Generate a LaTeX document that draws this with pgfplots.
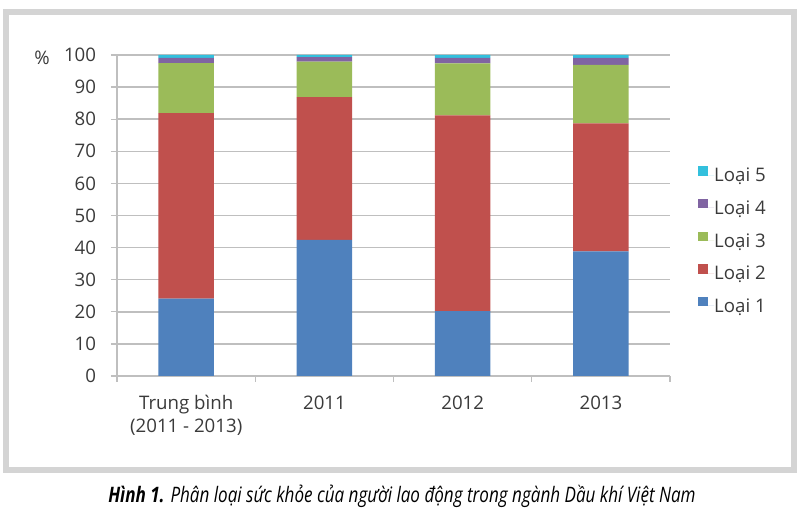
\documentclass[border=0pt]{standalone}
\usepackage{pgfplots}
\pgfplotsset{compat=1.18}
\usepackage{fontspec}
\setmainfont{Open Sans}
\newfontfamily\capfont[FakeStretch=0.8]{Open Sans}
\definecolor{c1}{HTML}{4F81BD}
\definecolor{c2}{HTML}{C0504D}
\definecolor{c3}{HTML}{9BBB59}
\definecolor{c4}{HTML}{8064A2}
\definecolor{c5}{HTML}{33C0DD}
\definecolor{txt}{HTML}{3A3A3A}
\definecolor{gridc}{HTML}{BFBFBF}
\definecolor{framec}{HTML}{D4D4D4}
\begin{document}
\begin{tikzpicture}
\begin{scope}[x=0.75pt,y=0.75pt]
\path[use as bounding box] (0,0) rectangle (800,520);
\draw[framec, line width=4.5pt] (6,50) rectangle (794,508);
\node[text=txt, font=\fontsize{14}{16}\selectfont] at (42,462) {\%};
\node[font=\capfont\fontsize{16}{19}\selectfont, text=black] at (402,24) {\textbf{\textit{Hình 1.}} \textit{Phân loại sức khỏe của người lao động trong ngành Dầu khí Việt Nam}};
\end{scope}
\begin{axis}[
  at={(87.75pt,108pt)}, anchor=south west,
  scale only axis, width=414.75pt, height=240.75pt,
  xmin=-0.5, xmax=3.5, ymin=0, ymax=100,
  ybar stacked, bar width=0.4,
  axis lines*=left,
  axis line style={gridc, line width=1pt},
  ymajorgrids, grid style={gridc, line width=1.1pt},
  ytick={0,10,...,100},
  xtick={-0.5,0.5,1.5,2.5,3.5},
  xticklabels={{Trung bình\\(2011 - 2013)},2011,2012,2013,{}},
  tick align=outside, major tick length=4.5pt,
  tick style={gridc, line width=1pt},
  /pgf/number format/assume math mode=true,
  yticklabel style={font=\fontsize{14}{16}\selectfont, text=txt, inner sep=0pt, anchor=east, xshift=-11pt},
  xticklabel style={font=\fontsize{14}{17.25}\selectfont, text=txt, align=center, inner sep=0pt, anchor=north, xshift=51.9pt, yshift=-10pt},
  reverse legend,
  legend cell align=left,
  legend style={at={(rel axis cs:1.0506,0.654)}, anchor=north west, draw=none, fill=none, inner sep=0pt,
    font=\fontsize{14}{16}\selectfont, text=txt, row sep=12.8pt, column sep=0pt,
    nodes={inner sep=0pt, text height=10pt, text depth=0pt}},
  legend image code/.code={\fill[#1] (0pt,-0.3pt) rectangle (7pt,6.7pt); \path (0pt,0pt) -- (12pt,0pt);},
]
\addplot[fill=c1, draw=none] coordinates {(0,24.1) (1,42.4) (2,20.2) (3,38.8)};
\addlegendentry{Loại 1}
\addplot[fill=c2, draw=none] coordinates {(0,57.8) (1,44.5) (2,61.0) (3,39.9)};
\addlegendentry{Loại 2}
\addplot[fill=c3, draw=none] coordinates {(0,15.6) (1,11.0) (2,16.2) (3,18.2)};
\addlegendentry{Loại 3}
\addplot[fill=c4, draw=none] coordinates {(0,1.6) (1,1.4) (2,1.7) (3,2.2)};
\addlegendentry{Loại 4}
\addplot[fill=c5, draw=none] coordinates {(0,0.9) (1,0.7) (2,0.9) (3,0.9)};
\addlegendentry{Loại 5}
\end{axis}
\end{tikzpicture}
\end{document}
